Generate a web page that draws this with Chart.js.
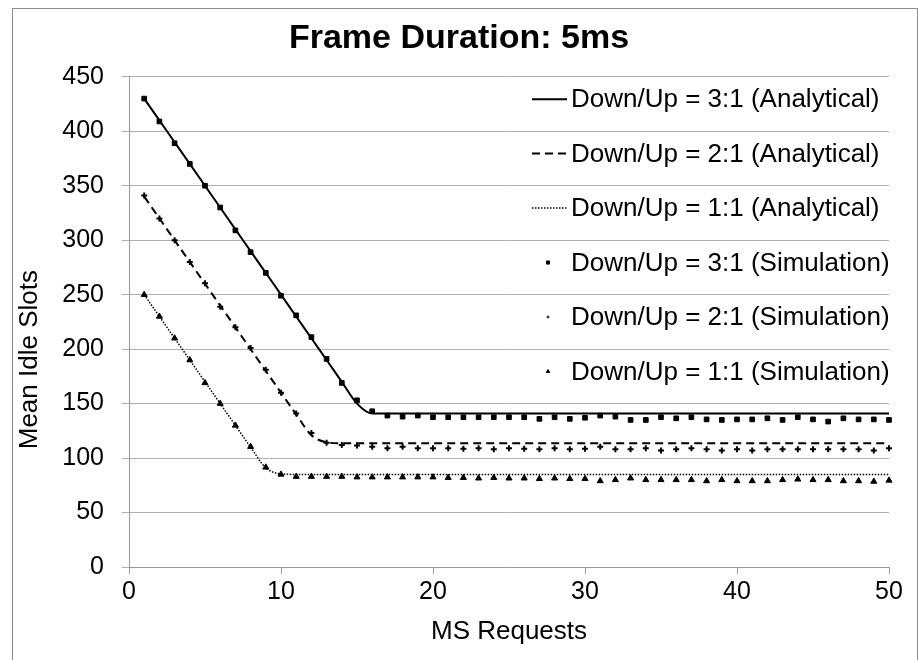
<!DOCTYPE html>
<html><head><meta charset="utf-8">
<script src="https://cdn.jsdelivr.net/npm/chart.js@4.4.0/dist/chart.umd.min.js"></script>
<style>html,body{margin:0;padding:0;background:#fff}</style>
</head><body>
<canvas id="c" width="918" height="660"></canvas>
<script>
const msRequests = [1,2,3,4,5,6,7,8,9,10,11,12,13,14,15,16,17,18,19,20,21,22,23,24,25,26,27,28,29,30,31,32,33,34,35,36,37,38,39,40,41,42,43,44,45,46,47,48,49,50];
const analytical31 = [430,410,390,370,350,330,310,290,270,250,230,210,190,170,150,141,141,141,141,141,141,141,141,141,141,141,141,141,141,141,141,141,141,141,141,141,141,141,141,141,141,141,141,141,141,141,141,141,141,141];
const analytical21 = [340,320,300,280,260,240,220,200,180,160,140,121,114.5,113.5,113.5,113.5,113.5,113.5,113.5,113.5,113.5,113.5,113.5,113.5,113.5,113.5,113.5,113.5,113.5,113.5,113.5,113.5,113.5,113.5,113.5,113.5,113.5,113.5,113.5,113.5,113.5,113.5,113.5,113.5,113.5,113.5,113.5,113.5,113.5,113.5];
const analytical11 = [250,230,210,190,170,150,130,110,91,85.5,85,85,85,85,85,85,85,85,85,85,85,85,85,85,85,85,85,85,85,85,85,85,85,85,85,85,85,85,85,85,85,85,85,85,85,85,85,85,85,85];
const simulation31 = [430,409,389,370,350,330,309,289,270,249,231,211,191,169,153,143,139,138,139,137.5,137.5,137.5,137.5,137.5,137.5,137.5,136,137.5,136,137,139,138,135,135,137.5,136.5,137.5,135.5,135,135.5,135.5,136.5,135,137.5,135.5,133.5,136.5,135.5,135.5,135];
const simulation21 = [341,320,300,280,260.5,239,220,201,181,160,141,123,114,112,111.5,110.5,109,110.5,109,109,109,108.5,109,108,109,108.5,108,109,108,108.5,110.5,108,108,109,107,108,109,108,107,108,107,108,108,108,108,108,108,108,107,109];
const simulation11 = [250,230,210,190,169,150,130,110.5,91.5,85,83,83,83,83,82.5,82.5,82.5,82.5,82.5,82.5,82,82,81.5,82,81.5,81.5,81,81.5,81,81,79,80,81.5,80,80,80,80,79,80,79,79,79,80,80.5,80,80,79,79,78.5,79.5];
const seriesLabels = ['Down/Up = 3:1 (Analytical)','Down/Up = 2:1 (Analytical)','Down/Up = 1:1 (Analytical)','Down/Up = 3:1 (Simulation)','Down/Up = 2:1 (Simulation)','Down/Up = 1:1 (Simulation)'];
const xTicks = [0,10,20,30,40,50];
const yTicks = [0,50,100,150,200,250,300,350,400,450];
const yTitle = 'Mean Idle Slots';

const FONT = "'Liberation Sans', Arial, Helvetica, sans-serif";
const pts = arr => msRequests.map((x, i) => ({x: x, y: arr[i]}));

function lineDs(label, arr, dash, width) {
  return {label, data: pts(arr), borderColor:'#000', backgroundColor:'#000', borderWidth: width,
    borderDash: dash, pointRadius: 0, pointHoverRadius: 0, cubicInterpolationMode: 'monotone', fill: false, clip: 8};
}
function simDs(label, arr, style, r, bw, legendR) {
  return {label, data: pts(arr), showLine: false, pointStyle: style, pointRadius: r, pointHoverRadius: r,
    pointBackgroundColor:'#000', pointBorderColor:'#000', pointBorderWidth: bw, borderColor:'#000', backgroundColor:'#000', clip: 8, legendRadius: legendR};
}

const frame = {
  id: 'frame',
  beforeDraw(chart) {
    const ctx = chart.ctx;
    ctx.save();
    ctx.fillStyle = '#fff';
    ctx.fillRect(0, 0, chart.width, chart.height);
    ctx.strokeStyle = '#8c8c8c';
    ctx.lineWidth = 1;
    ctx.strokeRect(12.5, 8.5, 905, 700);
    ctx.restore();
  },
  afterDraw(chart) {
    const ctx = chart.ctx, ca = chart.chartArea;
    ctx.save();
    ctx.font = '26px ' + FONT;
    ctx.fillStyle = '#000';
    ctx.textAlign = 'center';
    ctx.textBaseline = 'middle';
    ctx.translate(30, ca.top + (ca.bottom - ca.top) * 0.577);
    ctx.rotate(-Math.PI / 2);
    ctx.fillText(yTitle, 0, 0);
    ctx.restore();
  }
};

const customLegend = {
  id: 'customLegend',
  afterDraw(chart) {
    const ctx = chart.ctx, ca = chart.chartArea;
    const rowH = (ca.bottom - ca.top) / 9;
    const x0 = ca.right - 357;
    ctx.save();
    ctx.font = '26px ' + FONT;
    ctx.textBaseline = 'middle';
    ctx.textAlign = 'left';
    chart.data.datasets.forEach((ds, i) => {
      const y = ca.top + rowH * (i + 0.41);
      ctx.fillStyle = '#000';
      ctx.strokeStyle = '#000';
      if (ds.showLine === false) {
        Chart.helpers.drawPoint(ctx, {pointStyle: ds.pointStyle, radius: ds.legendRadius, borderWidth: 1, rotation: 0}, x0 + 16, y);
      } else {
        ctx.save();
        ctx.lineWidth = ds.borderWidth;
        ctx.setLineDash(ds.borderDash || []);
        ctx.beginPath();
        ctx.moveTo(x0, y);
        ctx.lineTo(x0 + 35, y);
        ctx.stroke();
        ctx.restore();
      }
      ctx.fillStyle = '#000';
      ctx.fillText(ds.label, x0 + 39, y + 1);
    });
    ctx.restore();
  }
};

new Chart(document.getElementById('c'), {
  type: 'line',
  data: {
    datasets: [
      lineDs(seriesLabels[0], analytical31, [], 2),
      lineDs(seriesLabels[1], analytical21, [8, 5], 2),
      lineDs(seriesLabels[2], analytical11, [1.5, 1.5], 1.5),
      simDs(seriesLabels[3], simulation31, 'rect', 3.3, 1, 2.2),
      simDs(seriesLabels[4], simulation21, 'cross', 3, 2, 1.5),
      simDs(seriesLabels[5], simulation11, 'triangle', 3.5, 1, 2)
    ]
  },
  options: {
    responsive: false,
    animation: false,
    devicePixelRatio: 1,
    layout: {padding: 0},
    plugins: {
      legend: {display: false},
      tooltip: {enabled: false},
      title: {display: true, text: 'Frame Duration: 5ms', color: '#000',
        font: {family: FONT, size: 34, weight: 'bold'}, padding: {top: 18, bottom: 18}}
    },
    scales: {
      x: {
        type: 'linear', min: 0, max: 50,
        afterBuildTicks: s => { s.ticks = xTicks.map(v => ({value: v})); },
        afterFit: s => { s.height = 93; },
        ticks: {color: '#000', font: {family: FONT, size: 25}, padding: 3, maxRotation: 0},
        grid: {drawOnChartArea: false, drawTicks: true, tickLength: 7, color: '#9a9a9a'},
        border: {color: '#9a9a9a', width: 1},
        title: {display: true, text: 'MS Requests', color: '#000', font: {family: FONT, size: 26}, padding: {top: 0, bottom: 13}}
      },
      y: {
        type: 'linear', min: 0, max: 450,
        afterBuildTicks: s => { s.ticks = yTicks.map(v => ({value: v})); },
        afterFit: s => { s.width = 129; },
        ticks: {color: '#000', font: {family: FONT, size: 25}, padding: 18},
        grid: {color: '#b0b0b0', tickLength: 7, drawTicks: true},
        border: {color: '#9a9a9a', width: 1}
      },
      spacer: {
        type: 'linear', position: 'right', axis: 'y', min: 0, max: 1,
        afterFit: s => { s.width = 29; },
        ticks: {display: false},
        grid: {display: false, drawOnChartArea: false},
        border: {display: false}
      }
    }
  },
  plugins: [frame, customLegend]
});
</script>
</body></html>
